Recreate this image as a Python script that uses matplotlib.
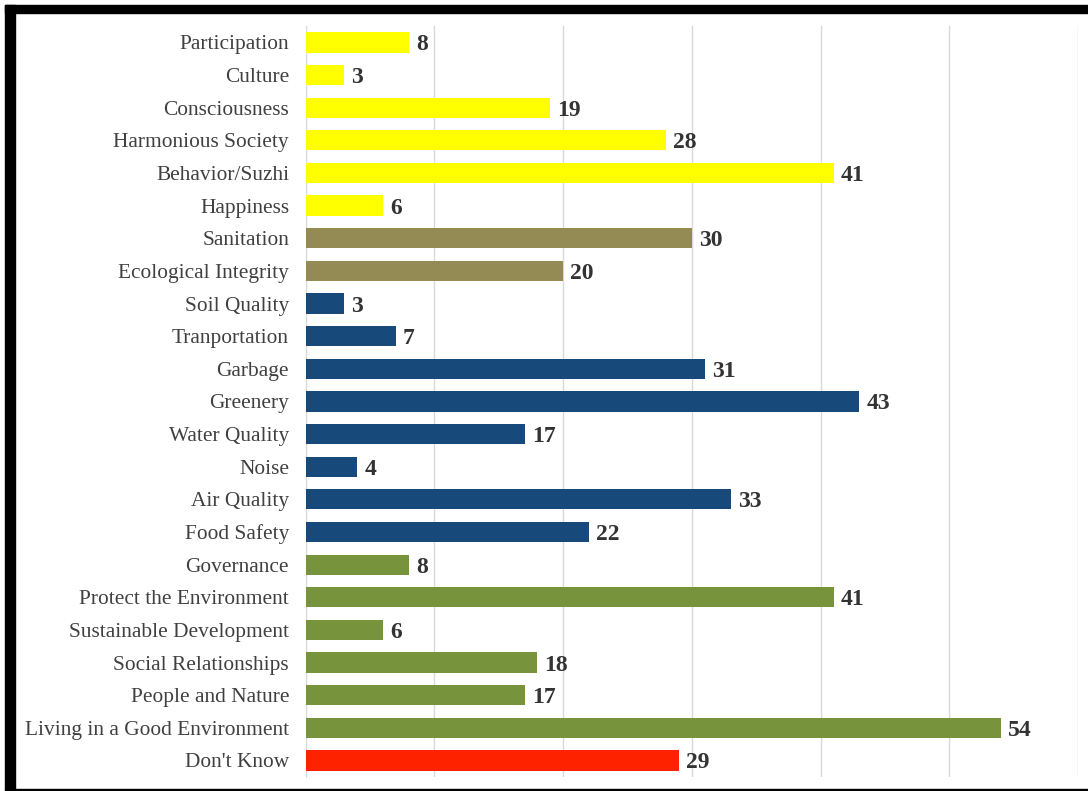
import matplotlib.pyplot as plt
from matplotlib.patches import Rectangle

# categories, top to bottom
categories = [
    "Participation", "Culture", "Consciousness", "Harmonious Society",
    "Behavior/Suzhi", "Happiness", "Sanitation", "Ecological Integrity",
    "Soil Quality", "Tranportation", "Garbage", "Greenery", "Water Quality",
    "Noise", "Air Quality", "Food Safety", "Governance",
    "Protect the Environment", "Sustainable Development",
    "Social Relationships", "People and Nature",
    "Living in a Good Environment", "Don't Know",
]
counts = [8, 3, 19, 28, 41, 6, 30, 20, 3, 7, 31, 43, 17, 4, 33, 22, 8, 41, 6, 18, 17, 54, 29]
groups = ["social"] * 6 + ["eco"] * 2 + ["env"] * 8 + ["life"] * 6 + ["dk"]

group_colors = {
    "social": "#FFFF00",
    "eco": "#948A54",
    "env": "#17497B",
    "life": "#77933C",
    "dk": "#FF2200",
}

plt.rcParams["font.family"] = ["Liberation Serif", "DejaVu Serif"]

fig = plt.figure(figsize=(10.88, 7.91), dpi=100)
ax = fig.add_axes([0.281, 0.018, 0.71, 0.949])

ypos = list(range(len(categories)))[::-1]
colors = [group_colors[g] for g in groups]
bars = ax.barh(ypos, counts, height=0.62, color=colors, zorder=3)

for bar, v in zip(bars, counts):
    ax.text(bar.get_width() + 0.55, bar.get_y() + bar.get_height() / 2, str(v),
            va="center_baseline", ha="left", fontsize=17, fontweight="bold",
            color="#333333")

ax.set_yticks(ypos)
ax.set_yticklabels(categories, fontsize=15.4, color="#404040")
ax.set_xlim(0, 60)
ax.set_ylim(-0.5, len(categories) - 0.5)
ax.set_xticks(range(0, 61, 10))
ax.set_xticklabels([])
ax.tick_params(axis="both", length=0)
ax.tick_params(axis="y", pad=12)
ax.grid(axis="x", color="#D9D9D9", linewidth=1, zorder=0)
for s in ["top", "right", "bottom"]:
    ax.spines[s].set_visible(False)
ax.spines["left"].set_color("#D9D9D9")

# black frame around the picture
fig.patches.append(Rectangle((5 / 1088, 1 - 12.5 / 791), 1083 / 1088, 7.5 / 791,
                             transform=fig.transFigure, color="black"))
fig.patches.append(Rectangle((5 / 1088, 1 - 790 / 791), 10 / 1088, 785 / 791,
                             transform=fig.transFigure, color="black"))
fig.patches.append(Rectangle((5 / 1088, 1 - 790 / 791), 1083 / 1088, 1.5 / 791,
                             transform=fig.transFigure, color="black"))

fig.savefig("out.png", dpi=100)
